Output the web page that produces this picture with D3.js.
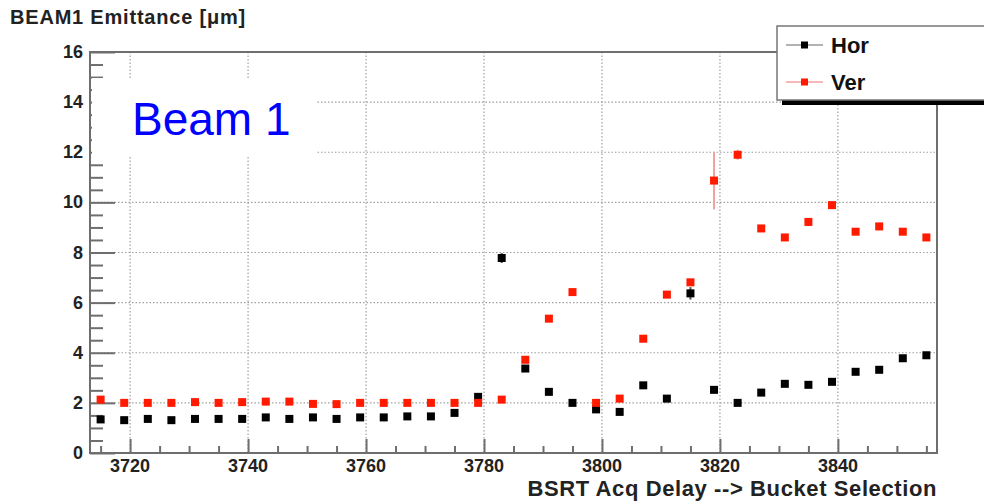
<!DOCTYPE html>
<html>
<head>
<meta charset="utf-8">
<script src="https://cdn.jsdelivr.net/npm/d3@7"></script>
<style>
  body { margin: 0; background: #fff; }
  text { font-family: 'Liberation Sans', Arial, sans-serif; }
</style>
</head>
<body>
<div id="chart"></div>
<script>
// bucket delay settings
const delays = [3715, 3719, 3723, 3727, 3731, 3735, 3739, 3743, 3747, 3751, 3755, 3759,
    3763, 3767, 3771, 3775, 3779, 3783, 3787, 3791, 3795, 3799, 3803, 3807,
    3811, 3815, 3819, 3823, 3827, 3831, 3835, 3839, 3843, 3847, 3851, 3855];

const horValues = [1.34, 1.31, 1.36, 1.31, 1.36, 1.36, 1.36, 1.42, 1.36, 1.42, 1.36, 1.42,
    1.42, 1.46, 1.46, 1.60, 2.24, 7.78, 3.37, 2.44, 2.00, 1.74, 1.64, 2.70,
    2.17, 6.37, 2.52, 2.00, 2.41, 2.76, 2.72, 2.84, 3.24, 3.32, 3.78, 3.90];
const horErrors = [0.05, 0.05, 0.05, 0.05, 0.05, 0.05, 0.05, 0.05, 0.05, 0.05, 0.05, 0.05,
    0.05, 0.05, 0.05, 0.05, 0.10, 0.20, 0.08, 0.06, 0.05, 0.06, 0.05, 0.08,
    0.06, 0.25, 0.06, 0.05, 0.06, 0.06, 0.06, 0.06, 0.06, 0.06, 0.06, 0.06];

const verValues = [2.13, 2.00, 2.00, 2.00, 2.03, 2.00, 2.03, 2.05, 2.05, 1.96, 1.95, 2.00,
    2.00, 2.00, 2.00, 2.00, 2.00, 2.13, 3.72, 5.36, 6.42, 2.00, 2.17, 4.56,
    6.32, 6.81, 10.87, 11.90, 8.96, 8.60, 9.22, 9.89, 8.83, 9.04, 8.83, 8.60];
const verErrors = [0.05, 0.05, 0.05, 0.05, 0.05, 0.05, 0.05, 0.05, 0.05, 0.05, 0.05, 0.05,
    0.05, 0.05, 0.05, 0.05, 0.05, 0.05, 0.12, 0.08, 0.15, 0.06, 0.06, 0.08,
    0.06, 0.10, 1.15, 0.20, 0.08, 0.08, 0.15, 0.08, 0.08, 0.15, 0.08, 0.08];

const xMajorTicks = [3720, 3740, 3760, 3780, 3800, 3820, 3840];
const yMajorTicks = [0, 2, 4, 6, 8, 10, 12, 14, 16];

const width = 984;
const height = 502;
const plot = { left: 90, right: 937, top: 52, bottom: 453 };

const svg = d3.select('#chart')
    .append('svg')
    .attr('width', width)
    .attr('height', height);

svg.append('rect').attr('width', width).attr('height', height).attr('fill', '#fff');

const x = d3.scaleLinear()
    .domain([3713.2, 3856.8])
    .range([plot.left, plot.right]);

const y = d3.scaleLinear()
    .domain([0, 16])
    .range([plot.bottom, plot.top]);

// dotted grid
const grid = svg.append('g')
    .attr('stroke', '#a0a0a0')
    .attr('stroke-width', 1.2)
    .attr('stroke-dasharray', '1.5,2');

grid.selectAll('.vgrid')
    .data(xMajorTicks)
    .enter().append('line')
    .attr('x1', d => x(d)).attr('x2', d => x(d))
    .attr('y1', plot.top).attr('y2', plot.bottom);

grid.selectAll('.hgrid')
    .data(yMajorTicks.slice(1, -1))
    .enter().append('line')
    .attr('x1', plot.left).attr('x2', plot.right)
    .attr('y1', d => y(d)).attr('y2', d => y(d));

// frame
svg.append('rect')
    .attr('x', plot.left).attr('y', plot.top)
    .attr('width', plot.right - plot.left).attr('height', plot.bottom - plot.top)
    .attr('fill', 'none')
    .attr('stroke', '#6e6e6e')
    .attr('stroke-width', 2);

// y axis with major / minor ticks drawn inward
const yAxis = d3.axisRight(y)
    .tickValues(d3.range(0, 16.01, 0.5))
    .tickSize(13)
    .tickFormat('');
const yAxisG = svg.append('g')
    .attr('transform', `translate(${plot.left}, 0)`)
    .call(yAxis);
yAxisG.select('.domain').remove();
yAxisG.selectAll('.tick line')
    .attr('stroke', '#6e6e6e')
    .attr('stroke-width', 2)
    .attr('x2', d => (d % 2 === 0 ? 25 : 13));

svg.append('g')
    .selectAll('text')
    .data(yMajorTicks)
    .enter().append('text')
    .attr('x', 83)
    .attr('y', d => y(d) + 6)
    .attr('text-anchor', 'end')
    .attr('font-size', 18)
    .attr('font-weight', 'bold')
    .attr('fill', '#222')
    .text(d => d);

// x axis
const xAxis = d3.axisTop(x)
    .tickValues(d3.range(3715, 3856, 5))
    .tickFormat('');
const xAxisG = svg.append('g')
    .attr('transform', `translate(0, ${plot.bottom})`)
    .call(xAxis);
xAxisG.select('.domain').remove();
xAxisG.selectAll('.tick line')
    .attr('stroke', '#6e6e6e')
    .attr('stroke-width', 2)
    .attr('y2', d => (d % 20 === 0 ? -14 : -7));

svg.append('g')
    .selectAll('text')
    .data(xMajorTicks)
    .enter().append('text')
    .attr('x', d => x(d))
    .attr('y', 472)
    .attr('text-anchor', 'middle')
    .attr('font-size', 18)
    .attr('font-weight', 'bold')
    .attr('fill', '#222')
    .text(d => d);

svg.append('text')
    .attr('x', plot.right)
    .attr('y', 496)
    .attr('text-anchor', 'end')
    .attr('font-size', 22)
    .attr('font-weight', 'bold')
    .attr('letter-spacing', 0.6)
    .attr('fill', '#222')
    .text('BSRT Acq Delay --> Bucket Selection');

svg.append('text')
    .attr('x', 10)
    .attr('y', 24)
    .attr('font-size', 20)
    .attr('font-weight', 'bold')
    .attr('letter-spacing', 0.8)
    .attr('fill', '#222')
    .text('BEAM1 Emittance [\u03bcm]');

// data series
const series = [
    { name: 'Hor', values: horValues, errors: horErrors, color: '#000', errColor: '#555' },
    { name: 'Ver', values: verValues, errors: verErrors, color: '#ff1a00', errColor: '#f0a0a0' }
];

series.forEach(s => {
    const g = svg.append('g');
    g.selectAll('.err')
        .data(delays)
        .enter().append('line')
        .attr('x1', d => x(d)).attr('x2', d => x(d))
        .attr('y1', (d, i) => y(s.values[i] - s.errors[i]))
        .attr('y2', (d, i) => y(s.values[i] + s.errors[i]))
        .attr('stroke', s.errColor)
        .attr('stroke-width', 2);
    g.selectAll('.pt')
        .data(delays)
        .enter().append('rect')
        .attr('x', d => x(d) - 4)
        .attr('y', (d, i) => y(s.values[i]) - 4)
        .attr('width', 8)
        .attr('height', 8)
        .attr('fill', s.color);
});

// "Beam 1" label on white box
svg.append('rect')
    .attr('x', 92).attr('y', 78)
    .attr('width', 225).attr('height', 78)
    .attr('fill', '#fff');
svg.append('text')
    .attr('x', 132)
    .attr('y', 135)
    .attr('font-size', 46)
    .attr('fill', '#0000ff')
    .text('Beam 1');

// legend
const legend = svg.append('g');
legend.append('rect')
    .attr('x', 782).attr('y', 31)
    .attr('width', 230).attr('height', 74)
    .attr('fill', '#000');
legend.append('rect')
    .attr('x', 777).attr('y', 26)
    .attr('width', 230).attr('height', 74)
    .attr('fill', '#fff')
    .attr('stroke', '#777')
    .attr('stroke-width', 1.5);

series.forEach((s, i) => {
    const ly = 45 + i * 37;
    legend.append('line')
        .attr('x1', 786).attr('x2', 823)
        .attr('y1', ly).attr('y2', ly)
        .attr('stroke', i === 0 ? '#999' : '#f4a0a0')
        .attr('stroke-width', 1.5);
    legend.append('rect')
        .attr('x', 801).attr('y', ly - 3.5)
        .attr('width', 7).attr('height', 7)
        .attr('fill', s.color);
    legend.append('text')
        .attr('x', 831)
        .attr('y', ly + 8)
        .attr('font-size', 22)
        .attr('font-weight', 'bold')
        .attr('fill', '#111')
        .text(s.name);
});
</script>
</body>
</html>
